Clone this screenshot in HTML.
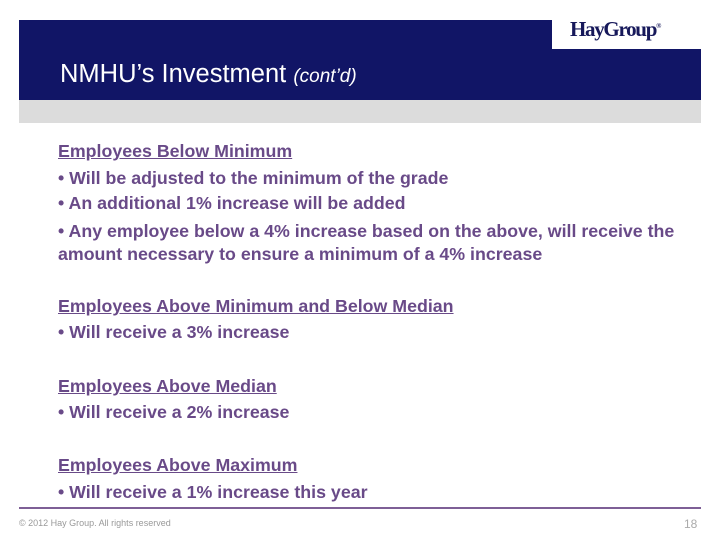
<!DOCTYPE html>
<html><head><meta charset="utf-8"><style>
body{margin:0;width:720px;height:540px;background:#fff;position:relative;overflow:hidden;font-family:"Liberation Sans",Arial,sans-serif}
.abs{position:absolute}
.t{position:absolute;left:58px;font-weight:bold;font-size:17.8px;color:#694a88;white-space:nowrap;line-height:20px}
.u{text-decoration:underline}
</style></head><body>
<div class="abs" style="left:19px;top:20px;width:682px;height:80px;background:#111566"></div>
<div class="abs" style="left:552px;top:20px;width:149px;height:29px;background:#fff"></div>
<div class="abs" style="left:570px;top:17px;font-family:'Liberation Serif',serif;font-weight:bold;font-size:21px;color:#16185a;letter-spacing:-1.3px">HayGroup<sup style="font-size:7px">®</sup></div>
<div class="abs" style="left:60px;top:60px;font-size:25.5px;color:#fff;white-space:nowrap">NMHU’s Investment <i style="font-size:19px">(cont’d)</i></div>
<div class="abs" style="left:19px;top:100px;width:682px;height:23px;background:#dcdcdc"></div>
<div class="t u" style="top:141px">Employees Below Minimum</div>
<div class="t" style="top:168px">• Will be adjusted to the minimum of the grade</div>
<div class="t" style="top:193px">• An additional 1% increase will be added</div>
<div class="t" style="top:220px;line-height:23px">• Any employee below a 4% increase based on the above, will receive the<br>amount necessary to ensure a minimum of a 4% increase</div>
<div class="t u" style="top:296px">Employees Above Minimum and Below Median</div>
<div class="t" style="top:322px">• Will receive a 3% increase</div>
<div class="t u" style="top:376px">Employees Above Median</div>
<div class="t" style="top:402px">• Will receive a 2% increase</div>
<div class="t u" style="top:455px">Employees Above Maximum</div>
<div class="t" style="top:482px">• Will receive a 1% increase this year</div>
<div class="abs" style="left:19px;top:507px;width:682px;height:2px;background:#7e5f96"></div>
<div class="abs" style="left:19px;top:518px;font-size:9px;color:#999">© 2012 Hay Group. All rights reserved</div>
<div class="abs" style="left:684px;top:517px;font-size:12px;color:#aaa">18</div>
</body></html>
